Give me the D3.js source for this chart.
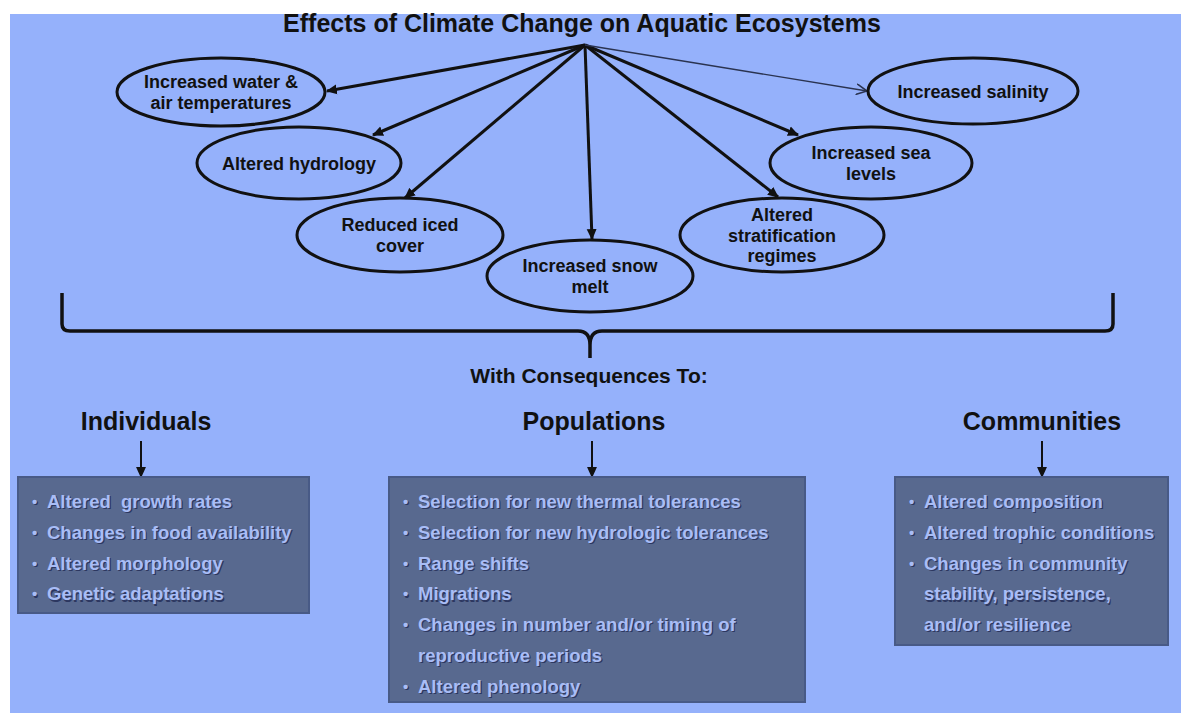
<!DOCTYPE html>
<html>
<head>
<meta charset="utf-8">
<script src="https://cdn.jsdelivr.net/npm/d3@7"></script>
<style>
  body { margin: 0; background: #fff; }
  svg { display: block; font-family: "Liberation Sans", Arial, sans-serif; }
</style>
</head>
<body>
<svg id="chart" width="1181" height="713"></svg>
<script>
// ---- content ----
const title = "Effects of Climate Change on Aquatic Ecosystems";
const effectLabels = [
    ["Increased water &", "air temperatures"],
    ["Altered hydrology"],
    ["Reduced iced", "cover"],
    ["Increased snow", "melt"],
    ["Altered", "stratification", "regimes"],
    ["Increased sea", "levels"],
    ["Increased salinity"]
];
const subtitle = "With Consequences To:";
const levels = ["Individuals", "Populations", "Communities"];
const individualItems = [
    ["Altered  growth rates"],
    ["Changes in food availability"],
    ["Altered morphology"],
    ["Genetic adaptations"]
];
const populationItems = [
    ["Selection for new thermal tolerances"],
    ["Selection for new hydrologic tolerances"],
    ["Range shifts"],
    ["Migrations"],
    ["Changes in number and/or timing of", "reproductive periods"],
    ["Altered phenology"]
];
const communityItems = [
    ["Altered composition"],
    ["Altered trophic conditions"],
    ["Changes in community", "stability, persistence,", "and/or resilience"]
];

// ---- layout (design units = reference pixels) ----
const origin = [585, 45];
const nodeLayout = [
    {cx: 221, cy: 92,  rx: 104, ry: 34, tip: [327, 91]},
    {cx: 299, cy: 163, rx: 102, ry: 36, tip: [373, 135]},
    {cx: 400, cy: 235, rx: 103, ry: 37, tip: [405, 198]},
    {cx: 590, cy: 276, rx: 103, ry: 36, tip: [592, 239]},
    {cx: 782, cy: 235, rx: 102, ry: 37, tip: [778, 197]},
    {cx: 871, cy: 163, rx: 101, ry: 36, tip: [798, 135]},
    {cx: 973, cy: 91,  rx: 105, ry: 33, tip: [867, 91], thin: true}
];
const boxLayout = [
    {x0: 18,  x1: 309,  y0: 477, y1: 613, ax: 141, hx: 146},
    {x0: 389, x1: 805,  y0: 477, y1: 702, ax: 592, hx: 594},
    {x0: 895, x1: 1168, y0: 477, y1: 645, ax: 1042, hx: 1042}
];
const itemGroups = [individualItems, populationItems, communityItems];

const svg = d3.select("#chart");
const W = +svg.attr("width"), H = +svg.attr("height");
const x = d3.scaleLinear().domain([0, 1181]).range([0, W]);
const y = d3.scaleLinear().domain([0, 713]).range([0, H]);

const ink = "#111";
const defs = svg.append("defs");
defs.append("marker")
    .attr("id", "head").attr("markerUnits", "userSpaceOnUse")
    .attr("viewBox", "0 -5 10 10").attr("refX", 9).attr("refY", 0)
    .attr("markerWidth", 11).attr("markerHeight", 11).attr("orient", "auto")
  .append("path").attr("d", "M0,-4.5L10,0L0,4.5Z").attr("fill", ink);
defs.append("marker")
    .attr("id", "openhead").attr("markerUnits", "userSpaceOnUse")
    .attr("viewBox", "0 -5 10 10").attr("refX", 9).attr("refY", 0)
    .attr("markerWidth", 12).attr("markerHeight", 12).attr("orient", "auto")
  .append("path").attr("d", "M0,-4.5L9,0L0,4.5").attr("fill", "none")
    .attr("stroke", "#2a3350").attr("stroke-width", 1.3);

// panel
svg.append("rect")
    .attr("x", x(10)).attr("y", y(14))
    .attr("width", x(1181) - x(10)).attr("height", y(713) - y(14))
    .attr("fill", "#95b1fb");

svg.append("text")
    .attr("x", x(582)).attr("y", y(32))
    .attr("text-anchor", "middle")
    .attr("font-size", 25).attr("font-weight", "bold").attr("fill", ink)
    .text(title);

// arrows from the title
const nodes = effectLabels.map((lines, i) => ({lines, ...nodeLayout[i]}));
svg.append("g").selectAll("line")
    .data(nodes)
    .join("line")
    .attr("x1", x(origin[0])).attr("y1", y(origin[1]))
    .attr("x2", d => x(d.tip[0])).attr("y2", d => y(d.tip[1]))
    .attr("stroke", d => d.thin ? "#2a3350" : ink)
    .attr("stroke-width", d => d.thin ? 1.4 : 3)
    .attr("marker-end", d => d.thin ? "url(#openhead)" : "url(#head)");

const nodeG = svg.append("g").selectAll("g")
    .data(nodes)
    .join("g");
nodeG.append("ellipse")
    .attr("cx", d => x(d.cx)).attr("cy", d => y(d.cy))
    .attr("rx", d => d.rx).attr("ry", d => d.ry)
    .attr("fill", "none").attr("stroke", ink).attr("stroke-width", 3);
nodeG.each(function(d) {
    const n = d.lines.length;
    d3.select(this).selectAll("text")
        .data(d.lines)
        .join("text")
        .attr("x", x(d.cx))
        .attr("y", (t, i) => y(d.cy + (i - (n - 1) / 2) * 20.5 + 6.5))
        .attr("text-anchor", "middle")
        .attr("font-size", 18).attr("font-weight", "bold").attr("fill", ink)
        .text(t => t);
});

// brace
const brace = d3.path();
brace.moveTo(x(62), y(293));
brace.lineTo(x(62), y(324));
brace.quadraticCurveTo(x(62), y(331), x(70), y(331));
brace.lineTo(x(578), y(331));
brace.quadraticCurveTo(x(590), y(331), x(590), y(345));
brace.lineTo(x(590), y(358));
brace.moveTo(x(590), y(345));
brace.quadraticCurveTo(x(590), y(331), x(602), y(331));
brace.lineTo(x(1105), y(331));
brace.quadraticCurveTo(x(1113), y(331), x(1113), y(324));
brace.lineTo(x(1113), y(293));
svg.append("path").attr("d", brace.toString())
    .attr("fill", "none").attr("stroke", ink).attr("stroke-width", 3.5)
    .attr("stroke-linejoin", "round");

svg.append("text")
    .attr("x", x(589)).attr("y", y(383))
    .attr("text-anchor", "middle")
    .attr("font-size", 21).attr("font-weight", "bold").attr("fill", ink)
    .text(subtitle);

// consequence columns
const cols = levels.map((name, i) => ({name, items: itemGroups[i], ...boxLayout[i]}));
const colG = svg.append("g").selectAll("g").data(cols).join("g");

colG.append("text")
    .attr("x", d => x(d.hx)).attr("y", y(430))
    .attr("text-anchor", "middle")
    .attr("font-size", 25).attr("font-weight", "bold").attr("fill", ink)
    .text(d => d.name);

colG.append("line")
    .attr("x1", d => x(d.ax)).attr("x2", d => x(d.ax))
    .attr("y1", y(441)).attr("y2", y(477))
    .attr("stroke", ink).attr("stroke-width", 2)
    .attr("marker-end", "url(#head)");

colG.append("rect")
    .attr("x", d => x(d.x0)).attr("y", d => y(d.y0))
    .attr("width", d => x(d.x1) - x(d.x0)).attr("height", d => y(d.y1) - y(d.y0))
    .attr("fill", "#58698f").attr("stroke", "#485a86").attr("stroke-width", 2);

colG.each(function(d) {
    const rows = [];
    d.items.forEach(item => item.forEach((t, j) => rows.push({t, bullet: j === 0})));
    const g = d3.select(this);
    rows.forEach((r, i) => {
        const yy = y(d.y0 + 31 + i * 30.8);
        [["#2c3760", 1.2], ["#a9bdf6", 0]].forEach(([fill, off]) => {
            if (r.bullet) {
                g.append("text")
                    .attr("x", x(d.x0 + 14) + off).attr("y", yy + off - 1)
                    .attr("font-size", 15).attr("font-weight", "bold").attr("fill", fill)
                    .text("\u2022");
            }
            g.append("text")
                .attr("x", x(d.x0 + 29) + off).attr("y", yy + off)
                .attr("font-size", 18.5).attr("font-weight", "bold").attr("fill", fill)
                .style("white-space", "pre")
                .text(r.t);
        });
    });
});
</script>
</body>
</html>
